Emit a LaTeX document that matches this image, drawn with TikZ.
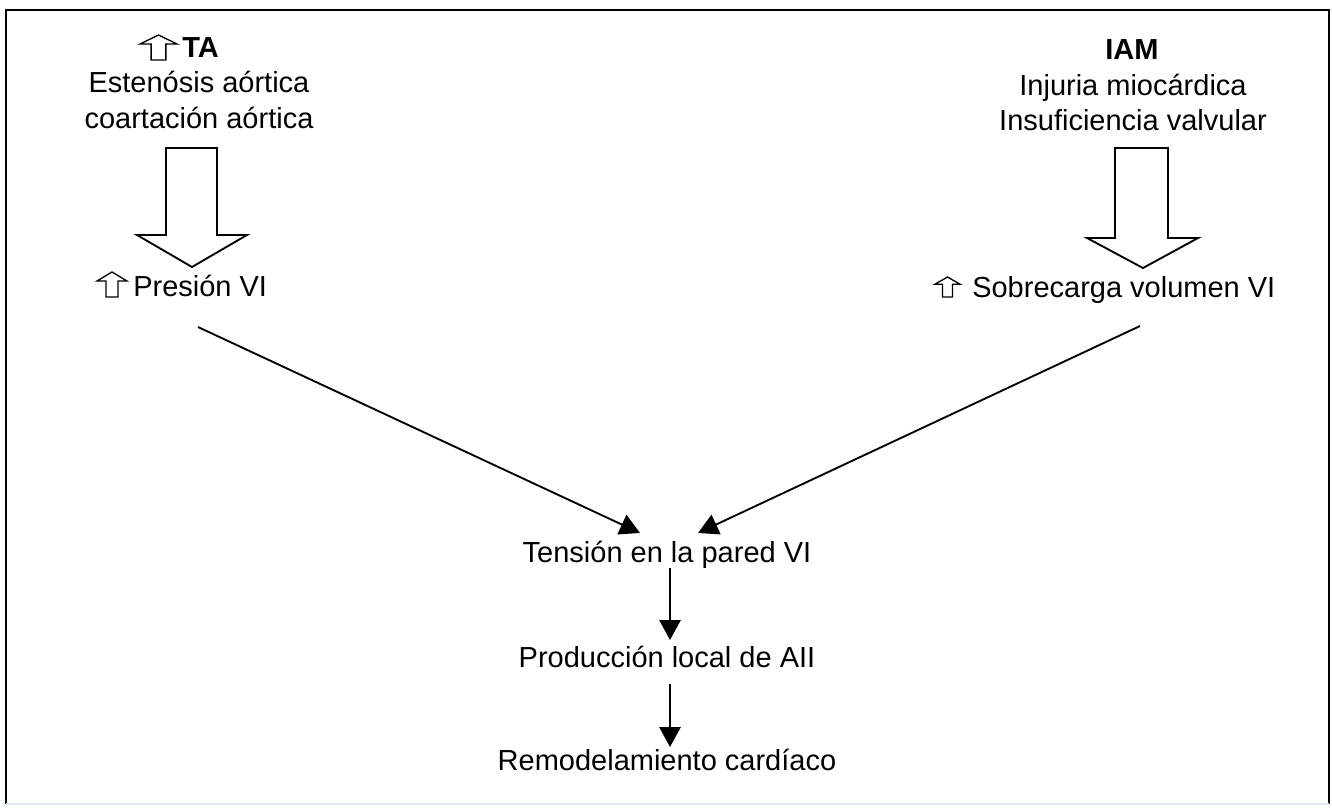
\documentclass[tikz,border=0pt]{standalone}
\usepackage{fontspec}
\setmainfont{Liberation Sans}
\usetikzlibrary{arrows.meta,calc}
\newcommand{\hollowup}[4]{% left x, top y, width, height
  \draw[smallup] (#1+#3/2,#2) -- (#1+#3,#2+0.36*#4) -- (#1+0.70*#3,#2+0.36*#4)
    -- (#1+0.70*#3,#2+#4) -- (#1+0.30*#3,#2+#4) -- (#1+0.30*#3,#2+0.36*#4)
    -- (#1,#2+0.36*#4) -- cycle;}
\begin{document}
\begin{tikzpicture}[x=0.75pt,y=-0.75pt,
  txt/.style={inner sep=0pt, anchor=base, font=\fontsize{21.75}{26}\selectfont},
  arr/.style={line width=1.4pt, -{Triangle[length=15pt,width=16pt]}},
  hollow/.style={line width=1.4pt, line join=miter},
  smallup/.style={line width=1pt, line join=miter},
  frameline/.style={line width=2.2pt}]
\useasboundingbox (0,0) rectangle (1332,808);
% frame
\draw[frameline] (6,804) -- (6,10) -- (1329,10) -- (1329,804);
\draw[line width=1.5pt, color={rgb,255:red,222;green,230;blue,238}] (6,804) -- (1329,804);

% left block
\hollowup{140}{35}{37}{25}
\node[txt, anchor=base west] (ta) at (182,57) {\textbf{TA}};
\node[txt] (est) at (199,92) {Estenósis aórtica};
\node[txt] (coa) at (199,128) {coartación aórtica};
\draw[hollow] (166,148) -- (217,148) -- (217,235) -- (247,235) -- (192,267)
  -- (137,235) -- (166,235) -- cycle;
\hollowup{97}{272}{30}{25}
\node[txt, anchor=base west] (pres) at (133,296) {Presión VI};

% right block
\node[txt] (iam) at (1132,59) {\textbf{IAM}};
\node[txt] (inj) at (1133,95) {Injuria miocárdica};
\node[txt] (ins) at (1133,130) {Insuficiencia valvular};
\draw[hollow] (1115,148) -- (1168,148) -- (1168,238) -- (1198,238) -- (1143,268)
  -- (1087,238) -- (1115,238) -- cycle;
\hollowup{935}{277}{25}{20}
\node[txt, anchor=base west] (sobre) at (972,297) {Sobrecarga volumen VI};

% centre chain
\node[txt] (tens) at (667,562) {Tensión en la pared VI};
\node[txt] (prod) at (667,667) {Producción local de AII};
\node[txt] (remo) at (667,770) {Remodelamiento cardíaco};

\coordinate (ls) at (198,327);
\coordinate (rs) at (1140,326);
\coordinate (lt) at (640,533);
\coordinate (rt) at (698,533);
\coordinate (d1s) at (670,568);
\coordinate (d1e) at (670,640);
\coordinate (d2s) at (670,684);
\coordinate (d2e) at (670,747);

\draw[arr] (ls) -- (lt);
\draw[arr] (rs) -- (rt);
\draw[arr] (d1s) -- (d1e);
\draw[arr] (d2s) -- (d2e);
\end{tikzpicture}
\end{document}
